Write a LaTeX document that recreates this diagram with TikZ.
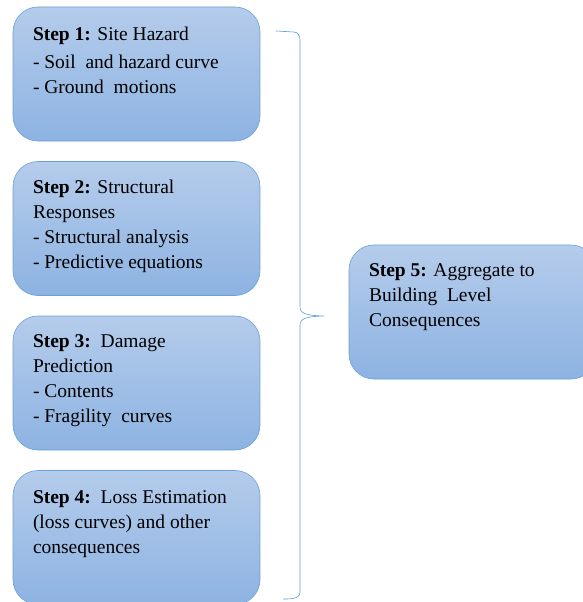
\documentclass[tikz,border=0pt]{standalone}
\usepackage{fontspec}
\setmainfont{Liberation Serif}
\usetikzlibrary{positioning}

\definecolor{boxline}{HTML}{6A9FD8}
\definecolor{boxtop}{HTML}{B5CCEB}
\definecolor{boxbottom}{HTML}{8DB3E2}
\definecolor{braceline}{HTML}{5B9BD5}

\begin{document}
\begin{tikzpicture}[
                x = 1pt, y = -1pt, % pixel like units
                node distance = 154.5pt, % distance between box centres
                semithick % line style
            ]

            \tikzstyle{stepbox}=[
            draw = boxline,
            rounded corners = 25pt,
            top color = boxtop,
            bottom color = boxbottom,
            minimum width = 247pt,
            minimum height = 134pt
            ]

            \tikzstyle{steptext}=[
            anchor = north west,
            inner sep = 0pt,
            align = left,
            font = \fontsize{19.5}{25}\selectfont
            ]

            \useasboundingbox (0,0) rectangle (583,602);

            \node[stepbox] (box1) at (136.5,74) {};
            \node[stepbox] (box2) [below of=box1] {};
            \node[stepbox] (box3) [below of=box2] {};
            \node[stepbox] (box4) [below of=box3] {};
            \node[stepbox] (box5) at (472.5,312) {};

            \node[steptext] (text1) at ([shift={(20,20)}]box1.north west)
                {\textbf{Step 1:} Site Hazard\\[3pt]
                 - Soil\ \ and hazard curve\\
                 - Ground\ \ motions};
            \node[steptext] (text2) at ([shift={(20,18.5)}]box2.north west)
                {\textbf{Step 2:} Structural\\
                 Responses\\
                 - Structural analysis\\
                 - Predictive equations};
            \node[steptext] (text3) at ([shift={(20,18.5)}]box3.north west)
                {\textbf{Step 3:}\ \ Damage\\
                 Prediction\\
                 - Contents\\
                 - Fragility\ \ curves};
            \node[steptext] (text4) at ([shift={(20,20)}]box4.north west)
                {\textbf{Step 4:}\ \ Loss Estimation\\
                 (loss curves) and other\\
                 consequences};
            \node[steptext] (text5) at ([shift={(20,18.5)}]box5.north west)
                {\textbf{Step 5:} Aggregate to\\
                 Building\ \ Level\\
                 Consequences};

            % curly brace
            \coordinate (bracetop) at (276,31);
            \coordinate (bracetip) at (324,316);
            \coordinate (bracebottom) at (283,599);
            \draw[braceline] (bracetop) -- (294,32) to[out=0,in=90] (300,40)
                -- (300,306) .. controls (300,313) and (304,315.5) .. (bracetip)
                .. controls (304,316.5) and (300,319) .. (300,326)
                -- (300,592) to[out=-90,in=0] (bracebottom);
        \end{tikzpicture}
\end{document}
